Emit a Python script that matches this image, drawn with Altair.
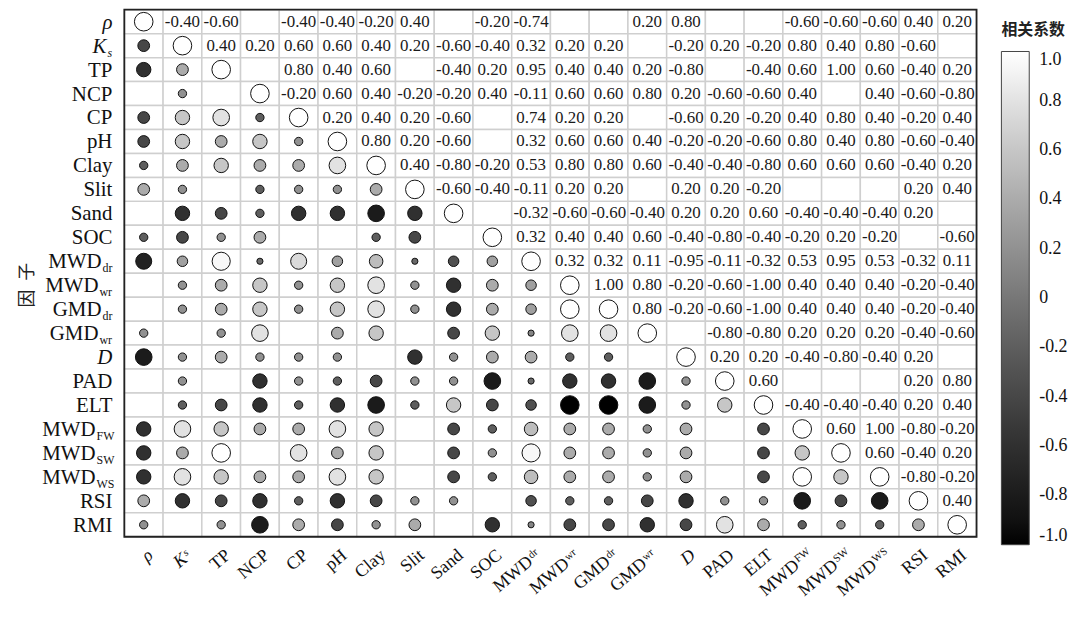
import altair as alt
import pandas as pd

# ---------------- data ----------------
keys = ["rho", "Ks", "TP", "NCP", "CP", "pH", "Clay", "Slit", "Sand", "SOC",
        "MWDdr", "MWDwr", "GMDdr", "GMDwr", "D", "PAD", "ELT",
        "MWDFW", "MWDSW", "MWDWS", "RSI", "RMI"]
label_main = ["ρ", "K", "TP", "NCP", "CP", "pH", "Clay", "Slit", "Sand", "SOC",
              "MWD", "MWD", "GMD", "GMD", "D", "PAD", "ELT",
              "MWD", "MWD", "MWD", "RSI", "RMI"]
label_sub = ["", "s", "", "", "", "", "", "", "", "",
             "dr", "wr", "dr", "wr", "", "", "",
             "FW", "SW", "WS", "", ""]
label_italic = [True, True, False, False, False, False, False, False, False, False,
                False, False, False, False, True, False, False,
                False, False, False, False, False]
axis_title = "因\u2002子"

# upper triangle: row i, columns i+1 .. 21 (None = blank cell)
r_rho = [-0.40, -0.60, None, -0.40, -0.40, -0.20, 0.40, None, -0.20, -0.74, None, None,
         0.20, 0.80, None, None, -0.60, -0.60, -0.60, 0.40, 0.20]
r_Ks = [0.40, 0.20, 0.60, 0.60, 0.40, 0.20, -0.60, -0.40, 0.32, 0.20, 0.20, None,
        -0.20, 0.20, -0.20, 0.80, 0.40, 0.80, -0.60, None]
r_TP = [None, 0.80, 0.40, 0.60, None, -0.40, 0.20, 0.95, 0.40, 0.40, 0.20, -0.80,
        None, -0.40, 0.60, 1.00, 0.60, -0.40, 0.20]
r_NCP = [-0.20, 0.60, 0.40, -0.20, -0.20, 0.40, -0.11, 0.60, 0.60, 0.80, 0.20, -0.60,
         -0.60, 0.40, None, 0.40, -0.60, -0.80]
r_CP = [0.20, 0.40, 0.20, -0.60, None, 0.74, 0.20, 0.20, None, -0.60, 0.20, -0.20,
        0.40, 0.80, 0.40, -0.20, 0.40]
r_pH = [0.80, 0.20, -0.60, None, 0.32, 0.60, 0.60, 0.40, -0.20, -0.20, -0.60,
        0.80, 0.40, 0.80, -0.60, -0.40]
r_Clay = [0.40, -0.80, -0.20, 0.53, 0.80, 0.80, 0.60, -0.40, -0.40, -0.80,
          0.60, 0.60, 0.60, -0.40, 0.20]
r_Slit = [-0.60, -0.40, -0.11, 0.20, 0.20, None, 0.20, 0.20, -0.20,
          None, None, None, 0.20, 0.40]
r_Sand = [None, -0.32, -0.60, -0.60, -0.40, 0.20, 0.20, 0.60, -0.40, -0.40, -0.40, 0.20, None]
r_SOC = [0.32, 0.40, 0.40, 0.60, -0.40, -0.80, -0.40, -0.20, 0.20, -0.20, None, -0.60]
r_MWDdr = [0.32, 0.32, 0.11, -0.95, -0.11, -0.32, 0.53, 0.95, 0.53, -0.32, 0.11]
r_MWDwr = [1.00, 0.80, -0.20, -0.60, -1.00, 0.40, 0.40, 0.40, -0.20, -0.40]
r_GMDdr = [0.80, -0.20, -0.60, -1.00, 0.40, 0.40, 0.40, -0.20, -0.40]
r_GMDwr = [None, -0.80, -0.80, 0.20, 0.20, 0.20, -0.40, -0.60]
r_D = [0.20, 0.20, -0.40, -0.80, -0.40, 0.20, None]
r_PAD = [0.60, None, None, None, 0.20, 0.80]
r_ELT = [-0.40, -0.40, -0.40, 0.20, 0.40]
r_MWDFW = [0.60, 1.00, -0.80, -0.20]
r_MWDSW = [0.60, -0.40, 0.20]
r_MWDWS = [-0.80, -0.20]
r_RSI = [0.40]
r_RMI = []

upper_rows = [r_rho, r_Ks, r_TP, r_NCP, r_CP, r_pH, r_Clay, r_Slit, r_Sand, r_SOC,
              r_MWDdr, r_MWDwr, r_GMDdr, r_GMDwr, r_D, r_PAD, r_ELT,
              r_MWDFW, r_MWDSW, r_MWDWS, r_RSI, r_RMI]

# lower-triangle circles that differ from the mirrored upper values (D row / D column)
lower_D_row = [-0.80, 0.20, 0.40, 0.20, 0.20, 0.20, None, -0.60, 0.20, 0.40, 0.40,
               -0.20, -0.20, None]            # row D, columns rho .. GMDwr
lower_D_col = [0.20, 0.20, 0.40, 0.40, 0.40, -0.60, -0.40]  # column D, rows PAD .. RMI

legend_values = [-1.0, -0.8, -0.6, -0.4, -0.2, 0.0, 0.2, 0.4, 0.6, 0.8, 1.0]

# ---------------- tables ----------------
n = len(keys)
iD = keys.index("D")
cells = pd.DataFrame([(keys[i], keys[j]) for i in range(n) for j in range(n)],
                     columns=["row", "col"])
upper = []
lower = {}
for i in range(n):
    for k, v in enumerate(upper_rows[i]):
        j = i + 1 + k
        if v is None:
            continue
        upper.append((keys[i], keys[j], v, f"{v:.2f}"))
        lower[(j, i)] = v
for j, v in enumerate(lower_D_row):
    lower.pop((iD, j), None)
    if v is not None:
        lower[(iD, j)] = v
for k, v in enumerate(lower_D_col):
    i = iD + 1 + k
    lower.pop((i, iD), None)
    if v is not None:
        lower[(i, iD)] = v
circles = [(keys[i], keys[i], 1.0) for i in range(n)]
circles += [(keys[i], keys[j], v) for (i, j), v in lower.items()]

upper_df = pd.DataFrame(upper, columns=["row", "col", "r", "txt"])
circ_df = pd.DataFrame(circles, columns=["row", "col", "r"])
lab_df = pd.DataFrame({"key": keys, "main": label_main, "sub": label_sub, "it": label_italic})

SERIF = "Liberation Serif"
CJK = "Noto Sans CJK SC"
W, H = 857, 530

xs = alt.Scale(domain=keys, paddingInner=0, paddingOuter=0)
ys = alt.Scale(domain=keys, paddingInner=0, paddingOuter=0)

grid = alt.Chart(cells).mark_rect(fill="white", stroke="#cfcfcf", strokeWidth=1.5).encode(
    x=alt.X("col:N", scale=xs,
            axis=alt.Axis(labels=False, ticks=False, domain=False, grid=False,
                          title=axis_title, titleX=W / 2, titleY=602, titleAlign="center",
                          titleBaseline="middle", titleFont=CJK, titleFontSize=18,
                          titleFontWeight="normal", titleColor="#222")),
    y=alt.Y("row:N", scale=ys, axis=None),
)

ytitle = alt.Chart(pd.DataFrame({"t": [axis_title]})).mark_text(
    font=CJK, fontSize=18, color="#222", angle=270, align="center",
    baseline="middle").encode(x=alt.value(-97), y=alt.value(277), text="t:N")

dots = alt.Chart(circ_df).transform_calculate(a="abs(datum.r)").mark_circle(
    stroke="#111111", strokeWidth=1, opacity=1).encode(
    x=alt.X("col:N", scale=xs, axis=None),
    y=alt.Y("row:N", scale=ys, axis=None),
    size=alt.Size("a:Q", scale=alt.Scale(domain=[0, 1], range=[0, 350]), legend=None),
    color=alt.Color("r:Q", scale=alt.Scale(domain=[-1, 1], range=["#000000", "#ffffff"]),
                    legend=alt.Legend(
                        title="相关系数", orient="none", legendX=882, legendY=12,
                        direction="vertical", gradientLength=496, gradientThickness=28,
                        gradientStrokeColor="#444444", gradientStrokeWidth=1,
                        values=legend_values,
                        labelExpr="datum.value == 0 ? '0' : (datum.value < 0 ? '-' : '') + format(abs(datum.value), '.1f')",
                        labelFont=SERIF, labelFontSize=18, labelColor="#111",
                        labelOffset=10, labelOverlap=False,
                        titleFont=CJK, titleFontSize=16, titleFontWeight="bold",
                        titleColor="#222", titlePadding=14)),
)

nums = alt.Chart(upper_df).mark_text(font=SERIF, fontSize=17, color="#1a1a1a",
                                     align="center", baseline="middle").encode(
    x=alt.X("col:N", scale=xs, axis=None),
    y=alt.Y("row:N", scale=ys, axis=None),
    text="txt:N",
)

# ---- axis labels with subscripts ----
sub_w_y = {"": 0, "s": 5, "dr": 10, "wr": 13, "FW": 16, "SW": 16, "WS": 16}
sub_w_x = {"": 0, "s": 5, "dr": 9, "wr": 12, "FW": 15, "SW": 15, "WS": 15}
label_layers = []
for (it, sub), g in lab_df.groupby(["it", "sub"]):
    style = "italic" if it else "normal"
    wy = sub_w_y[sub]
    wx = sub_w_x[sub]
    label_layers.append(alt.Chart(g).mark_text(
        font=SERIF, fontSize=21, fontStyle=style, color="#111", align="right",
        baseline="middle", dy=1).encode(
        x=alt.value(-12 - wy - (1 if sub else 0)),
        y=alt.Y("key:N", scale=ys, axis=None), text="main:N"))
    if sub:
        label_layers.append(alt.Chart(g).mark_text(
            font=SERIF, fontSize=12, fontStyle=style, color="#111", align="left",
            baseline="middle", dy=7).encode(
            x=alt.value(-12 - wy),
            y=alt.Y("key:N", scale=ys, axis=None), text="sub:N"))
    label_layers.append(alt.Chart(g).mark_text(
        font=SERIF, fontSize=18, fontStyle=style, color="#111", align="right",
        baseline="top", angle=320, dx=2 - wx - (1 if sub else 0)).encode(
        x=alt.X("key:N", scale=xs, axis=None), y=alt.value(H + 11), text="main:N"))
    if sub:
        label_layers.append(alt.Chart(g).mark_text(
            font=SERIF, fontSize=11, fontStyle=style, color="#111", align="left",
            baseline="top", angle=320, dx=2 - wx, dy=0).encode(
            x=alt.X("key:N", scale=xs, axis=None), y=alt.value(H + 11), text="sub:N"))

frame = alt.Chart(pd.DataFrame({"k": [0]})).mark_rect(
    fillOpacity=0, stroke="#222222", strokeWidth=1.8).encode(
    x=alt.value(0), x2=alt.value("width"), y=alt.value(0), y2=alt.value("height"))

chart = alt.layer(grid, dots, nums, *label_layers, ytitle, frame).properties(
    width=W, height=H,
    autosize=alt.AutoSizeParams(type="none"),
    padding={"left": 117, "top": 0, "right": 96, "bottom": 86},
).configure_view(stroke=None).resolve_scale(x="shared", y="shared")

chart.save("out.html", embed_options={"renderer": "svg", "actions": False})
